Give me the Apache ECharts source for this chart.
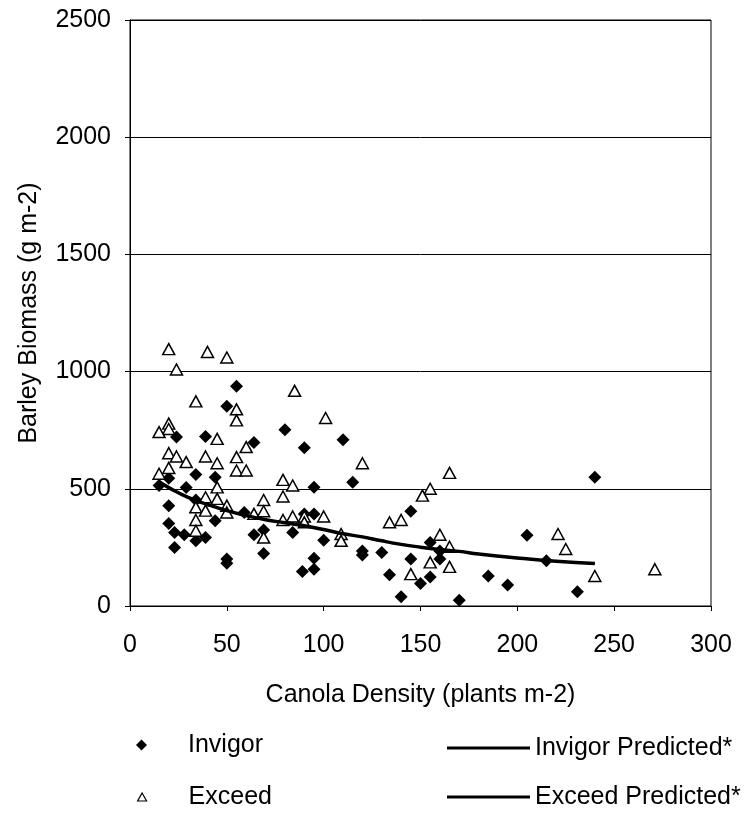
<!DOCTYPE html>
<html>
<head>
<meta charset="utf-8">
<script src="https://cdn.jsdelivr.net/npm/echarts@6/dist/echarts.min.js"></script>
<style>
html,body{margin:0;padding:0;background:#fff;}
#chart{width:752px;height:816px;}
</style>
</head>
<body>
<div id="chart"></div>
<script>
// Canola density (plants m-2), barley biomass (g m-2)
const invigor = [
  [55, 937], [50, 852], [24, 721], [39, 723], [64, 697], [80, 752], [90, 675],
  [110, 709], [115, 528], [95, 507], [34, 561], [44, 549], [20, 545], [15, 514],
  [29, 506], [34, 452], [20, 428], [44, 364], [20, 352], [23, 314], [28, 304],
  [34, 278], [39, 292], [23, 250], [50, 200], [50, 182], [59, 399], [64, 304],
  [69, 324], [84, 314], [90, 392], [95, 392], [100, 281], [69, 224], [95, 204],
  [95, 157], [89, 147], [120, 235], [120, 218], [130, 228], [134, 133], [145, 404],
  [155, 271], [160, 235], [160, 200], [145, 200], [155, 124], [150, 96], [140, 39],
  [170, 24], [185, 128], [195, 90], [205, 302], [215, 193], [240, 549], [231, 61]
];
const exceed = [
  [20, 1096], [40, 1084], [50, 1060], [24, 1009], [34, 873], [55, 839], [55, 792],
  [20, 778], [20, 755], [15, 742], [45, 713], [60, 678], [20, 652], [24, 638],
  [29, 614], [39, 638], [45, 609], [55, 635], [55, 578], [60, 578], [15, 564],
  [20, 589], [45, 506], [39, 464], [45, 457], [34, 421], [39, 407], [50, 428],
  [50, 399], [34, 367], [34, 321], [64, 393], [85, 918], [101, 802], [120, 609],
  [79, 538], [84, 514], [79, 467], [69, 452], [69, 404], [79, 367], [84, 382],
  [90, 382], [90, 357], [100, 382], [109, 307], [109, 278], [69, 292], [134, 357],
  [165, 568], [155, 500], [151, 471], [140, 367], [160, 304], [165, 253], [155, 186],
  [165, 167], [145, 136], [221, 307], [225, 243], [240, 128], [271, 157]
];
const predX = [15, 20, 30, 40, 50, 60, 70, 80, 90, 100, 110, 120, 130, 140, 150, 160, 170, 180, 200, 220, 240];
const invigorPredY = [530, 505, 463, 433, 407, 386, 368, 355, 342, 326, 308, 295, 278, 263, 251, 241, 233, 222, 205, 191, 181];
const exceedPredY  = [530, 505, 463, 433, 407, 386, 368, 355, 342, 326, 308, 295, 278, 263, 251, 241, 233, 222, 205, 191, 181];
const xTicks = [0, 50, 100, 150, 200, 250, 300];
const yTicks = [0, 500, 1000, 1500, 2000, 2500];

const FONT = '"Liberation Sans", Arial, sans-serif';
const FS = 25;
const pair = (xs, ys) => xs.map((x, i) => [x, ys[i]]);

function oneLegend(item, left, top, w, h, textPad) {
  return {
    orient: 'vertical', left: left, top: top, padding: 0, itemGap: 0,
    itemWidth: w, itemHeight: h,
    textStyle: {fontSize: FS, color: '#000', fontFamily: FONT, lineHeight: 26, padding: [0, 0, 0, textPad]},
    data: [item]
  };
}

const chart = echarts.init(document.getElementById('chart'), null, {renderer: 'canvas'});
chart.setOption({
  backgroundColor: '#fff',
  animation: false,
  textStyle: {fontFamily: FONT, color: '#000'},
  grid: {left: 130, right: 41, top: 20, bottom: 210, show: true, borderColor: '#000', borderWidth: 1},
  xAxis: {
    type: 'value', min: xTicks[0], max: xTicks[xTicks.length - 1], interval: 50,
    name: 'Canola Density (plants m-2)', nameLocation: 'middle', nameGap: 77,
    nameTextStyle: {fontSize: FS, color: '#000', fontFamily: FONT},
    axisLine: {lineStyle: {color: '#000', width: 1}},
    axisTick: {show: true, inside: false, length: 5, lineStyle: {color: '#000'}},
    axisLabel: {fontSize: FS, color: '#000', margin: 27, fontFamily: FONT, formatter: v => String(v)},
    splitLine: {show: false}
  },
  yAxis: {
    type: 'value', min: yTicks[0], max: yTicks[yTicks.length - 1], interval: 500,
    name: 'Barley Biomass (g m-2)', nameLocation: 'middle', nameGap: 88,
    nameTextStyle: {fontSize: FS, color: '#000', fontFamily: FONT},
    axisLine: {show: true, lineStyle: {color: '#000', width: 1}},
    axisTick: {show: true, inside: false, length: 5, lineStyle: {color: '#000'}},
    axisLabel: {fontSize: FS, color: '#000', margin: 19, fontFamily: FONT, formatter: v => String(v)},
    splitLine: {show: true, lineStyle: {color: '#000', width: 1}}
  },
  legend: [
    oneLegend({name: 'Invigor', icon: 'diamond', itemStyle: {color: '#000'}}, 136, 732, 11, 11, 36),
    oneLegend({name: 'Exceed', icon: 'triangle', itemStyle: {color: '#fff', borderColor: '#000', borderWidth: 1.2}}, 137, 784, 9, 8, 37),
    oneLegend({name: 'Invigor Predicted*', icon: 'rect', itemStyle: {color: '#000'}}, 447, 735, 83, 3, 0),
    oneLegend({name: 'Exceed Predicted*', icon: 'rect', itemStyle: {color: '#000'}}, 447, 784, 83, 3, 0)
  ],
  series: [
    {
      name: 'Invigor', type: 'scatter', data: invigor,
      symbol: 'diamond', symbolSize: 13,
      itemStyle: {color: '#000', opacity: 1}, z: 3
    },
    {
      name: 'Exceed', type: 'scatter', data: exceed,
      symbol: 'triangle', symbolSize: [12, 11],
      itemStyle: {color: '#fff', borderColor: '#000', borderWidth: 1.5, opacity: 1}, z: 4
    },
    {
      name: 'Invigor Predicted*', type: 'line', data: pair(predX, invigorPredY),
      showSymbol: false, symbol: 'none', smooth: true,
      lineStyle: {color: '#000', width: 3.5}, itemStyle: {color: '#000'}, z: 5
    },
    {
      name: 'Exceed Predicted*', type: 'line', data: pair(predX, exceedPredY),
      showSymbol: false, symbol: 'none', smooth: true,
      lineStyle: {color: '#000', width: 2}, itemStyle: {color: '#000'}, z: 5
    }
  ]
});
</script>
</body>
</html>
